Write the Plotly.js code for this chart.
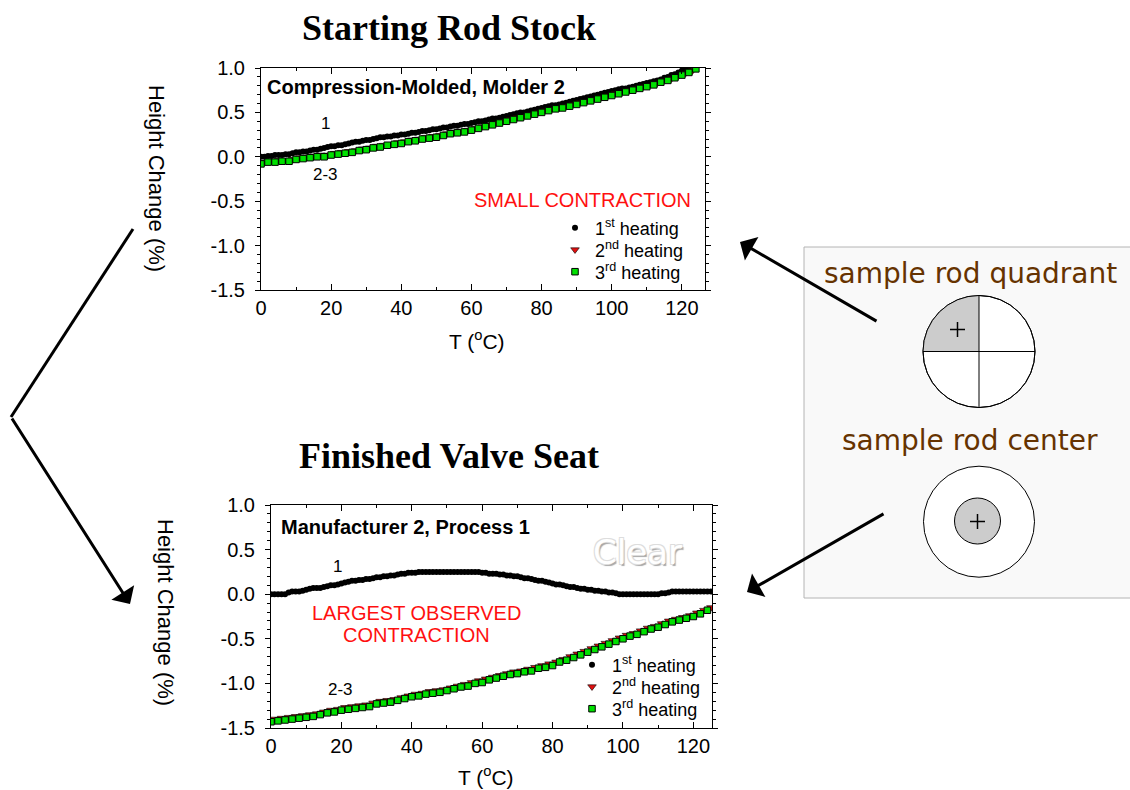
<!DOCTYPE html>
<html><head><meta charset="utf-8">
<script src="https://cdn.plot.ly/plotly-3.0.1.min.js"></script>
<style>html,body{margin:0;padding:0;background:#fff;}#chart{width:1130px;height:790px;}</style>
</head><body><div id="chart"></div>
<script>
// ---------- DATA ----------
const tempFine = [0,1,2,3,4,5,6,7,8,9,10,11,12,13,14,15,16,17,18,19,20,21,22,23,24,25,26,27,28,29,30,31,32,33,34,35,36,37,38,39,40,41,42,43,44,45,46,47,48,49,50,51,52,53,54,55,56,57,58,59,60,61,62,63,64,65,66,67,68,69,70,71,72,73,74,75,76,77,78,79,80,81,82,83,84,85,86,87,88,89,90,91,92,93,94,95,96,97,98,99,100,101,102,103,104,105,106,107,108,109,110,111,112,113,114,115,116,117,118,119,120,121,122,123,124,125];
const tempEven = [0,2,4,6,8,10,12,14,16,18,20,22,24,26,28,30,32,34,36,38,40,42,44,46,48,50,52,54,56,58,60,62,64,66,68,70,72,74,76,78,80,82,84,86,88,90,92,94,96,98,100,102,104,106,108,110,112,114,116,118,120,122,124];
const tempOdd = [1,3,5,7,9,11,13,15,17,19,21,23,25,27,29,31,33,35,37,39,41,43,45,47,49,51,53,55,57,59,61,63,65,67,69,71,73,75,77,79,81,83,85,87,89,91,93,95,97,99,101,103,105,107,109,111,113,115,117,119,121,123,125];

const seriesNames = ['1<sup>st</sup> heating','2<sup>nd</sup> heating','3<sup>rd</sup> heating'];

// Starting Rod Stock (Compression-Molded, Molder 2)
const rodFirst = [0.00,0.00,0.01,0.01,0.02,0.02,0.02,0.03,0.03,0.04,
 0.05,0.05,0.06,0.06,0.07,0.08,0.08,0.09,0.10,0.11,
 0.12,0.12,0.13,0.13,0.14,0.15,0.16,0.17,0.17,0.18,
 0.19,0.19,0.20,0.21,0.22,0.22,0.23,0.23,0.24,0.24,
 0.25,0.25,0.26,0.27,0.27,0.28,0.29,0.29,0.30,0.31,
 0.31,0.32,0.33,0.33,0.34,0.35,0.35,0.36,0.37,0.37,
 0.38,0.39,0.40,0.40,0.41,0.42,0.43,0.43,0.44,0.45,
 0.46,0.47,0.48,0.49,0.50,0.50,0.51,0.52,0.53,0.54,
 0.55,0.56,0.57,0.58,0.58,0.59,0.60,0.61,0.62,0.63,
 0.64,0.65,0.66,0.67,0.68,0.69,0.70,0.71,0.72,0.73,
 0.74,0.75,0.76,0.77,0.77,0.78,0.79,0.80,0.81,0.82,
 0.83,0.84,0.85,0.86,0.87,0.89,0.90,0.92,0.93,0.95,
 0.97,0.99,1.00];
const rodSecond = [-0.06,-0.05,-0.04,-0.04,-0.03,-0.01,0.00,0.01,0.02,0.02,
 0.04,0.05,0.06,0.07,0.09,0.10,0.12,0.13,0.14,0.16,
 0.17,0.19,0.20,0.22,0.23,0.24,0.26,0.28,0.29,0.30,
 0.32,0.34,0.36,0.38,0.40,0.42,0.44,0.46,0.48,0.50,
 0.52,0.54,0.55,0.57,0.59,0.61,0.63,0.65,0.67,0.69,
 0.71,0.73,0.75,0.77,0.79,0.81,0.83,0.86,0.88,0.91,
 0.94,0.97];
const rodThird = [-0.08,-0.06,-0.06,-0.05,-0.05,-0.03,-0.02,-0.01,0.00,0.00,
 0.02,0.03,0.04,0.05,0.07,0.08,0.10,0.11,0.13,0.14,
 0.15,0.17,0.18,0.20,0.21,0.22,0.24,0.26,0.27,0.28,
 0.30,0.32,0.34,0.36,0.38,0.40,0.42,0.44,0.46,0.48,
 0.50,0.52,0.54,0.55,0.57,0.59,0.61,0.63,0.65,0.67,
 0.69,0.71,0.73,0.75,0.77,0.79,0.81,0.84,0.86,0.89,
 0.92,0.95,0.99];

// Finished Valve Seat (Manufacturer 2, Process 1)
const seatFirst = [0.00,0.00,0.00,0.00,0.00,0.02,0.03,0.03,0.03,0.04,
 0.05,0.06,0.07,0.07,0.07,0.08,0.09,0.10,0.10,0.11,
 0.12,0.13,0.14,0.15,0.15,0.16,0.16,0.17,0.17,0.18,
 0.19,0.19,0.20,0.20,0.21,0.21,0.22,0.23,0.23,0.24,
 0.24,0.24,0.25,0.25,0.25,0.25,0.25,0.25,0.25,0.25,
 0.25,0.25,0.25,0.25,0.25,0.25,0.25,0.25,0.25,0.25,
 0.24,0.24,0.23,0.23,0.23,0.22,0.22,0.21,0.21,0.20,
 0.20,0.19,0.18,0.18,0.17,0.16,0.15,0.15,0.14,0.13,
 0.12,0.11,0.11,0.10,0.09,0.08,0.08,0.07,0.06,0.06,
 0.05,0.05,0.04,0.04,0.03,0.03,0.02,0.02,0.01,0.00,
 0.00,0.00,0.00,0.00,0.00,0.00,0.00,0.00,0.00,0.00,
 0.00,0.01,0.01,0.02,0.03,0.03,0.03,0.03,0.03,0.03,
 0.03,0.03,0.03,0.03,0.03,0.03];
const seatSecond = [-1.40,-1.39,-1.38,-1.37,-1.36,-1.35,-1.34,-1.32,-1.30,-1.29,
 -1.27,-1.26,-1.25,-1.24,-1.22,-1.20,-1.19,-1.18,-1.16,-1.14,
 -1.12,-1.11,-1.09,-1.08,-1.07,-1.05,-1.03,-1.01,-0.99,-0.97,
 -0.95,-0.93,-0.91,-0.89,-0.87,-0.86,-0.84,-0.82,-0.80,-0.78,
 -0.76,-0.73,-0.70,-0.67,-0.64,-0.61,-0.58,-0.55,-0.52,-0.49,
 -0.46,-0.44,-0.41,-0.38,-0.36,-0.33,-0.30,-0.28,-0.26,-0.24,
 -0.21,-0.18,-0.15];
const seatThird = [-1.43,-1.42,-1.41,-1.40,-1.39,-1.38,-1.37,-1.35,-1.33,-1.32,
 -1.30,-1.29,-1.28,-1.27,-1.26,-1.23,-1.22,-1.21,-1.19,-1.17,
 -1.15,-1.14,-1.12,-1.11,-1.10,-1.08,-1.06,-1.04,-1.03,-1.00,
 -0.99,-0.96,-0.94,-0.92,-0.90,-0.89,-0.87,-0.86,-0.83,-0.82,
 -0.80,-0.76,-0.74,-0.71,-0.68,-0.65,-0.62,-0.59,-0.56,-0.53,
 -0.50,-0.47,-0.45,-0.42,-0.39,-0.37,-0.34,-0.31,-0.29,-0.27,
 -0.25,-0.22,-0.18];

const yTickVals = [-1.5,-1.0,-0.5,0.0,0.5,1.0];
const yTickText = ['-1.5','-1.0','-0.5','0.0','0.5','1.0'];
const xTickVals = [0,20,40,60,80,100,120];
const xTickText = ['0','20','40','60','80','100','120'];

// ---------- LAYOUT HELPERS ----------
const W = 1130, H = 790;
const px = x => x / W;
const py = y => 1 - y / H;
const F = 'Liberation Sans, Arial, sans-serif';
const SERIF = 'Liberation Serif, Times New Roman, serif';

function xAxis(l, r, range, anchor) {
  return {domain:[px(l), px(r)], range:range, anchor:anchor,
    showline:true, linecolor:'#000', linewidth:1, mirror:'ticks',
    ticks:'inside', ticklen:6, tickcolor:'#000', tickwidth:1,
    tickmode:'array', tickvals:xTickVals, ticktext:xTickText,
    minor:{ticks:'inside', ticklen:3, dtick:10, tick0:0, tickcolor:'#000', showgrid:false},
    showgrid:false, zeroline:false, ticklabelstandoff:0,
    tickfont:{family:F, size:20, color:'#000'}, fixedrange:true};
}
function yAxis(t, b, anchor) {
  return {domain:[py(b), py(t)], range:[-1.5, 1.0], anchor:anchor,
    showline:true, linecolor:'#000', linewidth:1, mirror:'ticks',
    ticks:'outside', ticklen:5, tickcolor:'#000', tickwidth:1,
    tickmode:'array', tickvals:yTickVals, ticktext:yTickText,
    minor:{ticks:'outside', ticklen:3, dtick:0.1, tick0:0, tickcolor:'#000', showgrid:false},
    showgrid:false, zeroline:false, ticklabelstandoff:6,
    tickfont:{family:F, size:20, color:'#000'}, fixedrange:true};
}

const markerStyles = [
  {symbol:'circle', size:6, color:'#000000', line:{width:0}},
  {symbol:'triangle-down', size:7.5, color:'#e01010', line:{color:'#000', width:0.6}},
  {symbol:'square', size:6.5, color:'#00e000', line:{color:'#000', width:1}}
];

function mk(x, y, i, xa, ya, lg) {
  return {type:'scatter', mode:'markers', x:x.slice(0, y.length), y:y,
    xaxis:xa, yaxis:ya, name:seriesNames[i], legend:lg, marker:markerStyles[i],
    cliponaxis:true, hoverinfo:'skip'};
}

const data = [
  mk(tempFine, rodFirst, 0, 'x', 'y', 'legend'),
  mk(tempOdd, rodSecond, 1, 'x', 'y', 'legend2'),
  mk(tempEven, rodThird, 2, 'x', 'y', 'legend3'),
  mk(tempFine, seatFirst, 0, 'x2', 'y2', 'legend4'),
  mk(tempOdd, seatSecond, 1, 'x2', 'y2', 'legend5'),
  mk(tempEven, seatThird, 2, 'x2', 'y2', 'legend6')
];

function ann(text, x, y, o) {
  return Object.assign({xref:'paper', yref:'paper', x:px(x), y:py(y), text:text,
    showarrow:false, xanchor:'center', yanchor:'middle',
    font:{family:F, size:17, color:'#000'}}, o || {});
}
function arrow(tipX, tipY, tailX, tailY) {
  return {xref:'paper', yref:'paper', x:px(tipX), y:py(tipY), ax:tailX - tipX, ay:tailY - tipY,
    text:'', showarrow:true, arrowhead:1, arrowsize:1.5, arrowwidth:3, arrowcolor:'#000', standoff:0, startstandoff:0};
}

const BROWN = '#663300';
const annotations = [
  ann('<b>Starting Rod Stock</b>', 449, 28, {font:{family:SERIF, size:36, color:'#000'}}),
  ann('<b>Finished Valve Seat</b>', 449, 456, {font:{family:SERIF, size:36, color:'#000'}}),
  ann('Height Change (%)', 156, 178, {textangle:90, font:{family:F, size:22, color:'#000'}}),
  ann('Height Change (%)', 166, 612, {textangle:90, font:{family:F, size:22, color:'#000'}}),
  ann('T (<sup>o</sup>C)', 477, 340, {font:{family:F, size:21, color:'#000'}}),
  ann('T (<sup>o</sup>C)', 486, 776, {font:{family:F, size:21, color:'#000'}}),
  ann('<b>Compression-Molded, Molder 2</b>', 265, 87, {xanchor:'left', font:{family:F, size:20, color:'#000'}}),
  ann('<b>Manufacturer 2, Process 1</b>', 279, 527, {xanchor:'left', font:{family:F, size:20, color:'#000'}}),
  ann('1', 325, 124),
  ann('2-3', 325, 174),
  ann('1', 337, 566),
  ann('2-3', 340, 689),
  ann('SMALL CONTRACTION', 582, 200, {font:{family:F, size:20, color:'#ff1010'}}),
  ann('LARGEST OBSERVED', 417, 613, {font:{family:F, size:20, color:'#ff1010'}}),
  ann('CONTRACTION', 417, 635, {font:{family:F, size:20, color:'#ff1010'}}),
  ann('Clear', 637, 552, {font:{family:'DejaVu Sans, sans-serif', size:34, color:'#ffffff',
     shadow:'-1px -1px 0 #dddddd, 1px -1px 0 #dddddd, -1px 1px 0 #dddddd, 1.5px 1.5px 1px #a8a8a8'}}),
  ann('sample rod quadrant', 970, 273, {font:{family:'DejaVu Sans, sans-serif', size:28, color:BROWN}}),
  ann('sample rod center', 970, 440, {font:{family:'DejaVu Sans, sans-serif', size:28, color:BROWN}}),
  arrow(740, 242, 878, 322),
  arrow(747, 592, 885, 513),
  arrow(130, 604, 11, 417)
];

function P(x, y) { return px(x).toFixed(5) + ',' + py(y).toFixed(5); }
const qcx = 979, qcy = 351.5, qr = 56, kk = 0.5523;
const quadPath = 'M' + P(qcx, qcy) + ' L' + P(qcx - qr, qcy) +
  ' C' + P(qcx - qr, qcy - kk*qr) + ' ' + P(qcx - kk*qr, qcy - qr) + ' ' + P(qcx, qcy - qr) + ' Z';

function lineShape(x0, y0, x1, y1, w, c) {
  return {type:'line', xref:'paper', yref:'paper', x0:px(x0), y0:py(y0), x1:px(x1), y1:py(y1),
    line:{color:c || '#000', width:w}};
}
function circ(cx, cy, r, fill) {
  return {type:'circle', xref:'paper', yref:'paper', x0:px(cx - r), x1:px(cx + r), y0:py(cy + r), y1:py(cy - r),
    fillcolor:fill, line:{color:'#000', width:1}};
}
const shapes = [
  {type:'rect', xref:'paper', yref:'paper', x0:px(804), x1:px(1131), y0:py(598), y1:py(247),
   fillcolor:'#f9f9f9', line:{color:'#b4b4b4', width:1}, layer:'below'},
  circ(qcx, qcy, qr, '#ffffff'),
  {type:'path', xref:'paper', yref:'paper', path:quadPath, fillcolor:'#cccccc', line:{width:0}},
  circ(qcx, qcy, qr, 'rgba(0,0,0,0)'),
  lineShape(qcx - qr, qcy, qcx + qr, qcy, 1),
  lineShape(qcx, qcy - qr, qcx, qcy + qr, 1),
  lineShape(950, 329.5, 965, 329.5, 1.5),
  lineShape(957.5, 322, 957.5, 337, 1.5),
  circ(979, 521.7, 55.5, '#ffffff'),
  circ(977.5, 521, 23, '#cccccc'),
  lineShape(970, 521.5, 985, 521.5, 1.5),
  lineShape(977.5, 514, 977.5, 529, 1.5),
  lineShape(133, 229, 11, 417, 3)
];

function leg(xLeft, yMid) {
  return {x:px(xLeft), y:py(yMid), xanchor:'left', yanchor:'middle', bgcolor:'rgba(0,0,0,0)', borderwidth:0,
    font:{family:F, size:18, color:'#000'}, itemwidth:30, tracegroupgap:0};
}

const layout = {
  width:W, height:H, margin:{l:0, r:0, t:0, b:0},
  paper_bgcolor:'#ffffff', plot_bgcolor:'#ffffff', showlegend:true,
  xaxis:xAxis(261, 705, [0, 126.6], 'y'),
  yaxis:yAxis(68, 290, 'x'),
  xaxis2:xAxis(271, 712, [0, 125.3], 'y2'),
  yaxis2:yAxis(505, 728, 'x2'),
  legend:leg(555, 228),
  legend2:leg(555, 250),
  legend3:leg(555, 272),
  legend4:leg(572, 665),
  legend5:leg(572, 687),
  legend6:leg(572, 709),
  annotations:annotations,
  shapes:shapes
};

Plotly.newPlot('chart', data, layout, {displayModeBar:false, staticPlot:true});
</script>
</body></html>
